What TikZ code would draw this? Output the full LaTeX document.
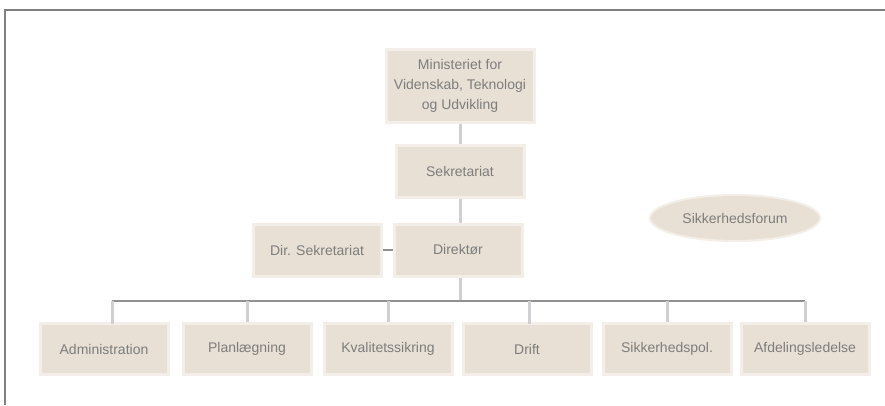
\documentclass[tikz,border=0pt]{standalone}
\usepackage{fontspec}
\setmainfont{Liberation Sans}
\usetikzlibrary{shapes.geometric}
\definecolor{boxfill}{RGB}{232,224,212}
\definecolor{boxedge}{RGB}{243,239,232}
\definecolor{txt}{RGB}{125,125,125}
\definecolor{lightline}{RGB}{208,208,210}
\definecolor{darkline}{RGB}{145,145,145}
\definecolor{frame}{RGB}{128,128,128}
\tikzset{
  unit/.style={rectangle, fill=boxfill, draw=boxedge, line width=3pt, text=txt,
    font=\fontsize{14}{20}\selectfont, align=center, inner sep=0pt},
  topunit/.style={unit, minimum width=148pt, minimum height=73pt},
  midunit/.style={unit, minimum width=128pt, minimum height=52pt},
  lowunit/.style={unit, minimum width=128pt, minimum height=51pt},
  oval/.style={ellipse, fill=boxfill, draw=boxedge, line width=2pt, text=txt,
    font=\fontsize{14}{20}\selectfont, minimum width=170pt, minimum height=46pt, inner sep=0pt},
  vline/.style={draw=lightline, line width=3pt},
  hline/.style={draw=darkline, line width=2pt},
}
\begin{document}
\begin{tikzpicture}[x=1pt,y=-1pt]
\useasboundingbox (0,0) rectangle (885,405);
\fill[white] (0,0) rectangle (885,405);
\draw[frame, line width=1.5pt] (5,405) -- (5,10) -- (885,10);

\node[topunit] (min) at (460,85.5) {Ministeriet for\\Videnskab, Teknologi\\og Udvikling};
\node[midunit] (sek) at (460,171.5) {Sekretariat};
\node[midunit] (dir) at (458,250) {Direktør};
\node[midunit] (dsek) at (317,250) {Dir. Sekretariat};
\node[oval] (sik) at (735,218) {Sikkerhedsforum};

\node[lowunit] (b1) at (104,349) {Administration};
\node[lowunit] (b2) at (247,349) {Planlægning};
\node[lowunit] (b3) at (388,349) {Kvalitetssikring};
\node[lowunit] (b4) at (527,349) {Drift};
\node[lowunit] (b5) at (667,349) {Sikkerhedspol.};
\node[lowunit] (b6) at (805,349) {Afdelingsledelse};

\coordinate (bus) at (460,301);
\coordinate (busL) at (112,301);
\coordinate (busR) at (805,301);

\draw[vline] (min.south -| sek.north) -- (sek.north);
\draw[vline] (sek.south) -- (sek.south |- dir.north);
\draw[vline] (sek.south |- dir.south) -- (bus);
\draw[hline] (dsek.east) -- (dir.west);
\draw[hline] (busL) -- (busR);
\draw[vline] (112,301) -- (112,323.5);
\draw[vline] (bus -| b2) -- (b2.north);
\draw[vline] (bus -| b3) -- (b3.north);
\draw[vline] (529,301) -- (529,323.5);
\draw[vline] (bus -| b5) -- (b5.north);
\draw[vline] (bus -| b6) -- (b6.north);
\end{tikzpicture}
\end{document}
